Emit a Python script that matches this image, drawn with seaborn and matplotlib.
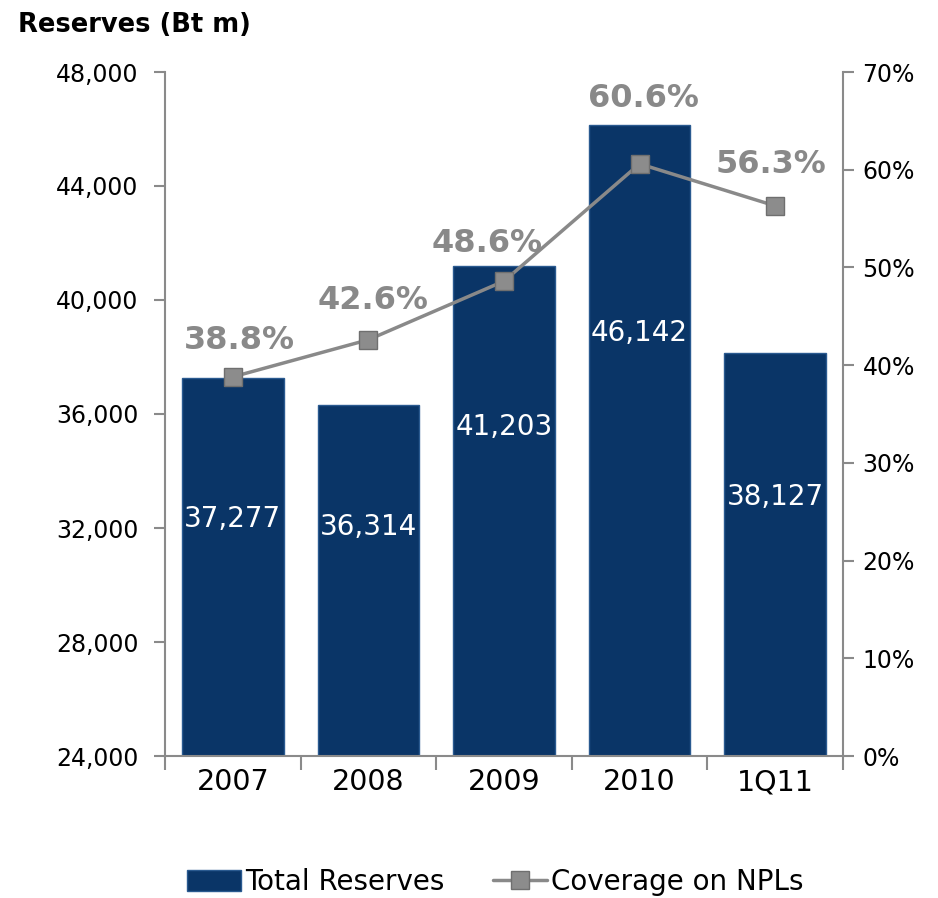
import matplotlib
matplotlib.use("Agg")
import matplotlib.pyplot as plt
import matplotlib.ticker as mticker
from matplotlib.patches import Patch
from matplotlib.lines import Line2D
import numpy as np
import pandas as pd
import seaborn as sns

categories = ["2007", "2008", "2009", "2010", "1Q11"]
total_reserves = [37277, 36314, 41203, 46142, 38127]
coverage = [0.388, 0.426, 0.486, 0.606, 0.563]
left_ticks = [24000, 28000, 32000, 36000, 40000, 44000, 48000]
right_ticks = [0.0, 0.1, 0.2, 0.3, 0.4, 0.5, 0.6, 0.7]

# layout helpers (label placement)
bar_label_y = [32300, 32050, 35550, 38850, 33100]
pct_offsets = [(5, 26), (3, 28), (-12, 27), (3, 47), (-3, 30)]

sns.set_style("white")
plt.rcParams["font.family"] = ["DejaVu Sans"]
plt.rcParams["text.color"] = "black"

BAR = "#0a3567"
GREY = "#898989"
SPINE = "#8a8a8a"

df = pd.DataFrame({"cat": categories, "val": total_reserves, "cov": coverage})

fig = plt.figure(figsize=(9.38, 8.98), dpi=100)
ax = fig.add_axes([165 / 938, 1 - 756 / 898, 678 / 938, (756 - 72) / 898])

sns.barplot(data=df, x="cat", y="val", color=BAR, width=0.75, ax=ax,
            saturation=1, edgecolor="#2a5a90", linewidth=1)
ax.set_xlim(-0.5, 4.5)
ax.set_ylim(24000, 48000)
ax.set_yticks(left_ticks)
ax.yaxis.set_major_formatter(mticker.FuncFormatter(lambda v, p: f"{int(v):,}"))
ax.set_xlabel("")
ax.set_ylabel("")

for i, (v, ly) in enumerate(zip(total_reserves, bar_label_y)):
    ax.text(i, ly, f"{v:,}", color="white", fontsize=20, ha="center", va="center")

ax2 = ax.twinx()
sns.lineplot(x=np.arange(len(categories)), y=coverage, ax=ax2, color=GREY,
             linewidth=2.5, marker="s", markersize=13, markerfacecolor="#8c8c8c",
             markeredgecolor="#6f6f6f", markeredgewidth=1)
ax2.set_ylim(0, 0.7)
ax2.set_yticks(right_ticks)
ax2.yaxis.set_major_formatter(mticker.FuncFormatter(lambda v, p: f"{v*100:.0f}%"))
ax2.set_xlim(-0.5, 4.5)

for i, (c, off) in enumerate(zip(coverage, pct_offsets)):
    ax2.annotate(f"{c*100:.1f}%", (i, c), xytext=off, textcoords="offset points",
                 ha="center", va="center", fontsize=23, fontweight="bold", color=GREY)

for a in (ax, ax2):
    a.spines["top"].set_visible(False)
    for s in ("left", "right", "bottom"):
        a.spines[s].set_color(SPINE)
        a.spines[s].set_linewidth(1.5)

ax2.spines["left"].set_visible(False)
ax2.spines["bottom"].set_visible(False)
ax.spines["right"].set_visible(False)

ax.tick_params(axis="y", which="major", direction="out", length=8, width=1.5,
               color=SPINE, labelsize=17, labelcolor="black", pad=11, left=True)
ax2.tick_params(axis="y", which="major", direction="out", length=8, width=1.5,
                color=SPINE, labelsize=17, labelcolor="black", pad=6, right=True)
ax.tick_params(axis="x", which="major", length=0, labelsize=20.5, labelcolor="black", pad=9)
ax.set_xticks(np.arange(-0.5, 5.0, 1.0), minor=True)
ax.tick_params(axis="x", which="minor", direction="out", length=10, width=1.5,
               color=SPINE, bottom=True)

fig.text(18 / 938, 1 - 25 / 898, "Reserves (Bt m)", fontsize=18.5, fontweight="bold",
         ha="left", va="center", color="black")

handles = [
    Patch(facecolor=BAR, edgecolor="#2a5a90"),
    Line2D([0], [0], color=GREY, linewidth=2.5, marker="s", markersize=13,
           markerfacecolor="#8c8c8c", markeredgecolor="#6f6f6f"),
]
fig.legend(handles, ["Total Reserves", "Coverage on NPLs"], loc="center",
           bbox_to_anchor=(0.528, 1 - 882 / 898), ncol=2, frameon=False,
           fontsize=20, handlelength=1.95, handleheight=0.8, handletextpad=0.15,
           columnspacing=1.75, labelcolor="black")

fig.savefig("out.png", dpi=100)
